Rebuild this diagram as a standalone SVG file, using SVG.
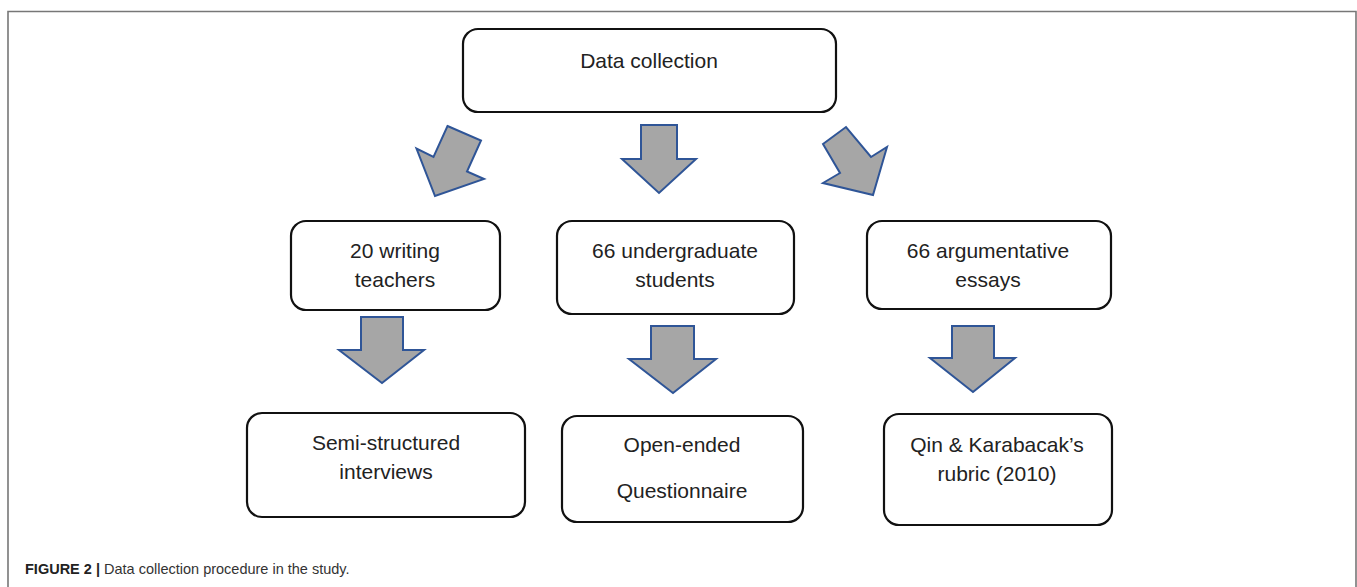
<svg xmlns="http://www.w3.org/2000/svg" width="1357" height="587" viewBox="0 0 1357 587">
<style>
.box{fill:#fff;stroke:#111;stroke-width:2.2}
.lbl{font-family:"Liberation Sans",Arial,sans-serif;font-size:21px;fill:#222;text-anchor:middle}
.arr{fill:#A6A6A6;stroke:#2F5597;stroke-width:2;stroke-linejoin:miter}
.frame{fill:none;stroke:#777;stroke-width:1.6}
.cap{font-family:"Liberation Sans",Arial,sans-serif;font-size:14.5px;fill:#333}
</style>
<rect width="1357" height="587" fill="#fff"/>
<path class="frame" d="M8,587 V11.5 H1356 V587"/>
<g id="n-data"><rect class="box" x="463" y="29" width="373" height="83" rx="15"/><text class="lbl" x="649" y="68">Data collection</text></g>
<g id="n-teachers"><rect class="box" x="291" y="221" width="209" height="89" rx="15"/><text class="lbl" x="395" y="258">20 writing</text><text class="lbl" x="395" y="287">teachers</text></g>
<g id="n-students"><rect class="box" x="557" y="221" width="237" height="93" rx="15"/><text class="lbl" x="675" y="258">66 undergraduate</text><text class="lbl" x="675" y="287">students</text></g>
<g id="n-essays"><rect class="box" x="867" y="221" width="244" height="88" rx="15"/><text class="lbl" x="988" y="258">66 argumentative</text><text class="lbl" x="988" y="287">essays</text></g>
<g id="n-interviews"><rect class="box" x="247" y="413" width="278" height="104" rx="15"/><text class="lbl" x="386" y="450">Semi-structured</text><text class="lbl" x="386" y="479">interviews</text></g>
<g id="n-questionnaire"><rect class="box" x="562" y="416" width="241" height="106" rx="15"/><text class="lbl" x="682" y="452">Open-ended</text><text class="lbl" x="682" y="498">Questionnaire</text></g>
<g id="n-rubric"><rect class="box" x="884" y="414" width="228" height="111" rx="15"/><text class="lbl" x="997" y="452">Qin &amp; Karabacak’s</text><text class="lbl" x="997" y="481">rubric (2010)</text></g>
<g id="connectors">
<polygon class="arr" points="447.5,126 481,140.5 467,171.5 484,179 435,196 416.5,148.5 433.5,157"/>
<polygon class="arr" points="641,125 677,125 677,159 696,159 659,193 622,159 641,159"/>
<polygon class="arr" points="823,144 846,127 871,157 887,147 873,195 823,183 840,173"/>
<polygon class="arr" points="361,317 403,317 403,350 424,350 382,383 339,350 361,350"/>
<polygon class="arr" points="651,326 694,326 694,359 716,359 673,393 629,359 651,359"/>
<polygon class="arr" points="952,326 994,326 994,358 1015,358 973,392 930,358 952,358"/>
</g>
<text class="cap" x="25" y="574"><tspan font-weight="bold" fill="#222">FIGURE 2 |</tspan> Data collection procedure in the study.</text>
</svg>
